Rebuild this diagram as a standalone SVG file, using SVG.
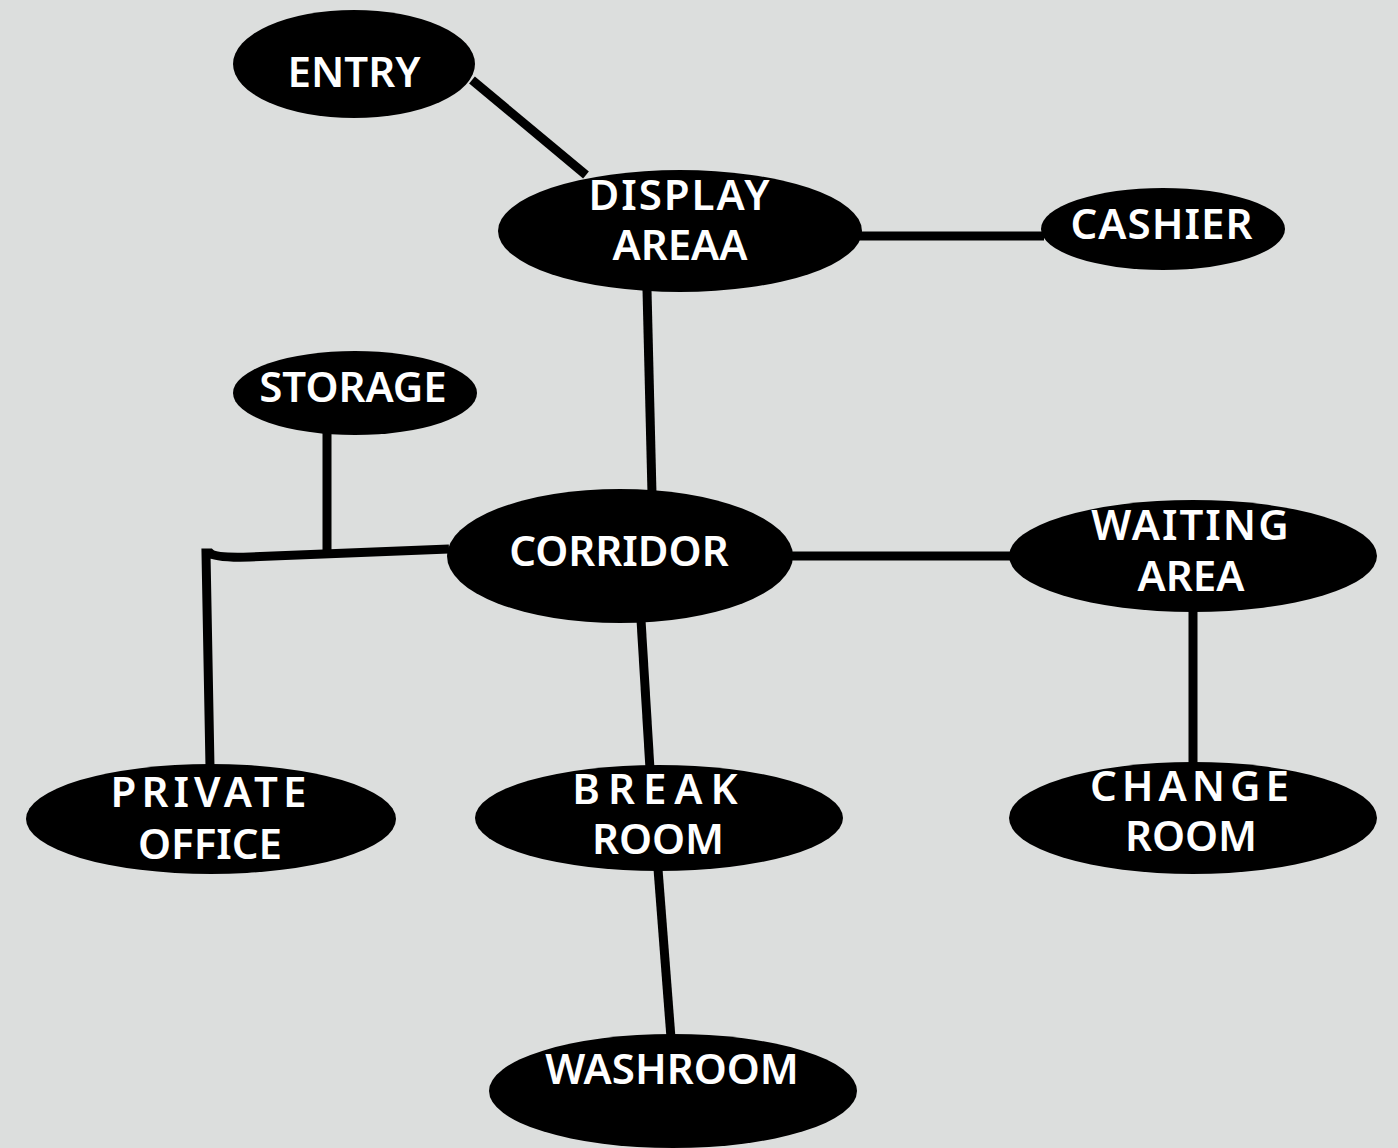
<svg xmlns="http://www.w3.org/2000/svg" width="1398" height="1148" viewBox="0 0 1398 1148">
<style>
.n{fill:#000}
.t{fill:#fff;font-family:"Noto Sans","DejaVu Sans",sans-serif;font-weight:600;font-size:42px;text-anchor:middle}
.c{stroke:#000;stroke-width:9;fill:none}
</style>
<rect width="1398" height="1148" fill="#dcdedd"/>
<g id="connectors">
<line class="c" x1="472" y1="80" x2="586" y2="175"/>
<line class="c" x1="858" y1="236" x2="1044" y2="236"/>
<line class="c" x1="647" y1="290" x2="652" y2="494"/>
<line class="c" x1="790" y1="556" x2="1012" y2="556"/>
<line class="c" x1="1193" y1="610" x2="1193" y2="764"/>
<line class="c" x1="641" y1="620" x2="650" y2="769"/>
<line class="c" x1="658" y1="869" x2="671" y2="1038"/>
<line class="c" x1="327" y1="433" x2="327" y2="552"/>
<path class="c" d="M449,549 L250,557 Q215,558 210,553 L206,553 L210,767"/>
</g>
<g id="entry"><ellipse class="n" cx="354" cy="64" rx="121" ry="54"/><text class="t" x="354" y="87">ENTRY</text></g>
<g id="display"><ellipse class="n" cx="680" cy="231" rx="182" ry="61"/><text class="t" x="680" y="210" letter-spacing="2">DISPLAY</text><text class="t" x="680" y="260">AREAA</text></g>
<g id="cashier"><ellipse class="n" cx="1163" cy="229" rx="122" ry="41"/><text class="t" x="1162" y="239" letter-spacing="1">CASHIER</text></g>
<g id="storage"><ellipse class="n" cx="355" cy="393" rx="122" ry="42"/><text class="t" x="353" y="402">STORAGE</text></g>
<g id="corridor"><ellipse class="n" cx="620" cy="556" rx="173" ry="67"/><text class="t" x="619" y="566">CORRIDOR</text></g>
<g id="waiting"><ellipse class="n" cx="1193" cy="556" rx="184" ry="56"/><text class="t" x="1191" y="540" letter-spacing="2">WAITING</text><text class="t" x="1191" y="591">AREA</text></g>
<g id="private"><ellipse class="n" cx="211" cy="819" rx="185" ry="55"/><text class="t" x="211" y="807" letter-spacing="5">PRIVATE</text><text class="t" x="210" y="859">OFFICE</text></g>
<g id="break"><ellipse class="n" cx="659" cy="818" rx="184" ry="53"/><text class="t" x="659" y="804" letter-spacing="8">BREAK</text><text class="t" x="658" y="854">ROOM</text></g>
<g id="change"><ellipse class="n" cx="1193" cy="818" rx="184" ry="56"/><text class="t" x="1192" y="801" letter-spacing="5">CHANGE</text><text class="t" x="1191" y="851">ROOM</text></g>
<g id="washroom"><ellipse class="n" cx="673" cy="1091" rx="184" ry="57"/><text class="t" x="672" y="1084">WASHROOM</text></g>
</svg>
